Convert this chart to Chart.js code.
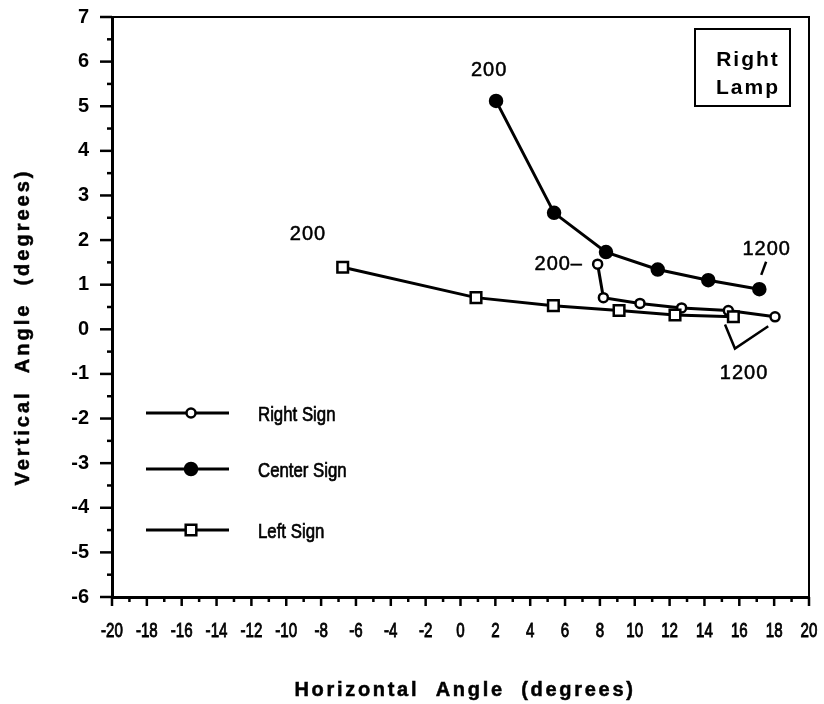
<!DOCTYPE html>
<html>
<head>
<meta charset="utf-8">
<script src="https://cdn.jsdelivr.net/npm/chart.js@4"></script>
<style>
  body { margin: 0; background: #fff; }
  canvas { display: block; }
</style>
</head>
<body>
<canvas id="myChart" width="824" height="704"></canvas>
<script>
// values (degrees)
const rightSignX = [7.87, 8.2, 10.3, 12.69, 15.37, 18.05];
const rightSignY = [1.46, 0.71, 0.58, 0.48, 0.42, 0.28];
const centerSignX = [2.04, 5.37, 8.35, 11.32, 14.22, 17.15];
const centerSignY = [5.12, 2.61, 1.73, 1.34, 1.1, 0.9];
const leftSignX = [-6.76, 0.89, 5.33, 9.1, 12.31, 15.66];
const leftSignY = [1.39, 0.71, 0.53, 0.42, 0.32, 0.28];

const xMin = -20, xMax = 20;
const yMin = -6, yMax = 7;

// text notes, placed in data units
const notes = [
  { text: '200', x: 1.64, y: 5.81, align: 'center' },
  { text: '200', x: -8.75, y: 2.12, align: 'center' },
  { text: '200\u2013', x: 7.03, y: 1.46, align: 'right' },
  { text: '1200', x: 17.57, y: 1.78, align: 'center' },
  { text: '1200', x: 16.27, y: -0.99, align: 'center' }
];
// leader lines for the 1200 notes
const leaders = [
  [[17.54, 1.515], [17.26, 1.22]],
  [[15.18, 0.11], [15.75, -0.43], [17.66, 0.07]]
];

const sans = "'Liberation Sans', Arial, Helvetica, sans-serif";

function toPoints(xs, ys) {
  return xs.map((x, i) => ({ x: x, y: ys[i] }));
}

const datasets = [
  {
    label: 'Left Sign',
    data: toPoints(leftSignX, leftSignY),
    pointStyle: 'rect',
    pointRadius: 7.5,
    pointBackgroundColor: '#fff'
  },
  {
    label: 'Right Sign',
    data: toPoints(rightSignX, rightSignY),
    pointStyle: 'circle',
    pointRadius: 4.5,
    pointBackgroundColor: '#fff'
  },
  {
    label: 'Center Sign',
    data: toPoints(centerSignX, centerSignY),
    pointStyle: 'circle',
    pointRadius: 6,
    pointBackgroundColor: '#000'
  }
];
datasets.forEach(ds => {
  ds.showLine = true;
  ds.borderColor = '#000';
  ds.borderWidth = 3;
  ds.pointBorderColor = '#000';
  ds.pointBorderWidth = 2.5;
  ds.tension = 0;
});

const legendOrder = ['Right Sign', 'Center Sign', 'Left Sign'];

// squeezed text, the original uses a narrow face; a thin stroke makes it as heavy as the scan
function narrowText(ctx, text, x, y, align, sx, weight) {
  ctx.save();
  ctx.translate(x, y);
  ctx.scale(sx, 1);
  ctx.textAlign = align;
  ctx.fillText(text, 0, 0);
  if (weight) {
    ctx.lineWidth = weight;
    ctx.strokeText(text, 0, 0);
  }
  ctx.restore();
}

const deco = {
  id: 'deco',
  afterDraw(chart) {
    const ctx = chart.ctx;
    const area = chart.chartArea;
    const xs = chart.scales.x;
    const ys = chart.scales.y;
    ctx.save();
    ctx.strokeStyle = '#000';
    ctx.fillStyle = '#000';

    // top and right frame
    ctx.lineWidth = 2;
    ctx.beginPath();
    ctx.moveTo(area.left, area.top);
    ctx.lineTo(area.right, area.top);
    ctx.lineTo(area.right, area.bottom);
    ctx.stroke();

    // tick marks
    ctx.lineWidth = 2.5;
    for (let v = xMin; v <= xMax; v++) {
      const px = xs.getPixelForValue(v);
      const len = v % 2 === 0 ? 9 : 5;
      ctx.beginPath();
      ctx.moveTo(px, area.bottom);
      ctx.lineTo(px, area.bottom + len);
      ctx.stroke();
    }
    for (let v = yMin; v <= yMax; v += 0.5) {
      const py = ys.getPixelForValue(v);
      const len = Number.isInteger(v) ? 12 : 5;
      ctx.beginPath();
      ctx.moveTo(area.left, py);
      ctx.lineTo(area.left - len, py);
      ctx.stroke();
    }

    // x tick labels
    ctx.font = '21px ' + sans;
    ctx.textBaseline = 'middle';
    xs.ticks.forEach(t => {
      narrowText(ctx, String(t.value), xs.getPixelForValue(t.value), 631, 'center', 0.72, 0.9);
    });

    // legend inside the plot
    const rows = [413, 469, 530];
    legendOrder.forEach((name, i) => {
      const ds = chart.data.datasets.find(d => d.label === name);
      const y = rows[i];
      ctx.lineWidth = 3;
      ctx.beginPath();
      ctx.moveTo(146, y);
      ctx.lineTo(229, y);
      ctx.stroke();
      ctx.lineWidth = ds.pointBorderWidth;
      ctx.fillStyle = ds.pointBackgroundColor;
      Chart.helpers.drawPoint(ctx, { pointStyle: ds.pointStyle, radius: ds.pointRadius, rotation: 0, borderWidth: ds.pointBorderWidth }, 191, y);
      ctx.fillStyle = '#000';
      ctx.font = '21px ' + sans;
      ctx.textBaseline = 'middle';
      narrowText(ctx, name, 258, y + 2, 'left', 0.8, 0.7);
    });

    // notes
    ctx.font = '20px ' + sans;
    ctx.letterSpacing = '1px';
    ctx.textBaseline = 'middle';
    ctx.lineWidth = 0.5;
    notes.forEach(n => {
      ctx.textAlign = n.align;
      const px = xs.getPixelForValue(n.x);
      const py = ys.getPixelForValue(n.y);
      ctx.fillText(n.text, px, py);
      ctx.strokeText(n.text, px, py);
    });
    ctx.letterSpacing = '0px';
    ctx.lineWidth = 2.5;
    leaders.forEach(pts => {
      ctx.beginPath();
      pts.forEach((p, i) => {
        const px = xs.getPixelForValue(p[0]);
        const py = ys.getPixelForValue(p[1]);
        if (i === 0) ctx.moveTo(px, py); else ctx.lineTo(px, py);
      });
      ctx.stroke();
    });

    // Right Lamp box
    ctx.lineWidth = 2;
    ctx.strokeRect(695, 29, 95, 77);
    ctx.font = 'bold 21px ' + sans;
    ctx.letterSpacing = '2px';
    ctx.textAlign = 'center';
    ctx.textBaseline = 'alphabetic';
    ctx.fillText('Right', 748, 66);
    ctx.fillText('Lamp', 748, 94);

    // axis titles
    ctx.font = 'bold 20px ' + sans;
    ctx.letterSpacing = '2.7px';
    ctx.textBaseline = 'middle';
    ctx.lineWidth = 0.5;
    ctx.fillText('Horizontal  Angle  (degrees)', 465, 690);
    ctx.strokeText('Horizontal  Angle  (degrees)', 465, 690);
    ctx.save();
    ctx.translate(23, 327);
    ctx.rotate(-Math.PI / 2);
    ctx.letterSpacing = '3px';
    ctx.fillText('Vertical  Angle  (degrees)', 0, 0);
    ctx.strokeText('Vertical  Angle  (degrees)', 0, 0);
    ctx.restore();

    ctx.restore();
  }
};

function initChart() {
  const ctx = document.getElementById('myChart');
  return new Chart(ctx, {
    type: 'scatter',
    data: { datasets: datasets },
    options: {
      responsive: false,
      animation: false,
      devicePixelRatio: 1,
      layout: { padding: { top: 17, right: 15, left: 0, bottom: 0 } },
      plugins: {
        legend: { display: false },
        tooltip: { enabled: false }
      },
      scales: {
        x: {
          type: 'linear',
          min: xMin,
          max: xMax,
          afterFit: (scale) => {
            scale.height = 107;
            scale.paddingLeft = 0;
            scale.paddingRight = 0;
          },
          grid: { display: false, drawTicks: false },
          border: { display: true, color: '#000', width: 3 },
          ticks: {
            stepSize: 2,
            autoSkip: false,
            maxRotation: 0,
            display: false
          }
        },
        y: {
          type: 'linear',
          min: yMin,
          max: yMax,
          afterFit: (scale) => {
            scale.width = 112;
            scale.paddingTop = 0;
            scale.paddingBottom = 0;
          },
          grid: { display: false, drawTicks: false },
          border: { display: true, color: '#000', width: 3 },
          ticks: {
            stepSize: 1,
            autoSkip: false,
            padding: 23,
            color: '#000',
            font: { family: sans, size: 20, weight: 'bold' }
          }
        }
      }
    },
    plugins: [deco]
  });
}

document.addEventListener('DOMContentLoaded', () => initChart());
</script>
</body>
</html>
